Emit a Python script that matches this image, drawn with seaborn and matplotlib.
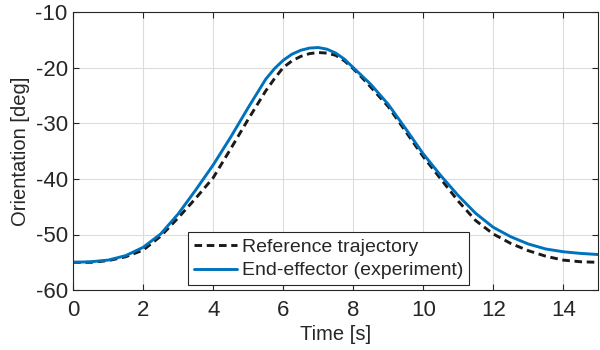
import numpy as np
import pandas as pd
import seaborn as sns
import matplotlib.pyplot as plt

# Values (0.5 s steps, 0.25 s around the peak)
time_s = [0.0, 0.5, 1.0, 1.5, 2.0, 2.5, 3.0, 3.5, 4.0, 4.5, 5.0, 5.5, 5.75, 6.0, 6.25,
          6.5, 6.75, 7.0, 7.25, 7.5, 7.75, 8.0, 8.25, 8.5, 9.0, 9.5, 10.0, 10.5, 11.0,
          11.5, 12.0, 12.5, 13.0, 13.5, 14.0, 14.5, 15.0]
reference = [-55.0, -55.0, -54.7, -54.0, -52.8, -50.3, -47.0, -43.5, -39.8, -34.6, -29.3,
             -24.2, -22.0, -20.0, -18.8, -18.0, -17.5, -17.3, -17.4, -17.8, -18.8, -20.2,
             -21.8, -23.5, -27.0, -31.5, -36.0, -40.0, -44.0, -47.5, -49.9, -51.6, -52.9,
             -53.9, -54.6, -54.9, -55.0]
end_effector = [-55.0, -54.9, -54.6, -53.8, -52.3, -49.9, -46.3, -42.0, -37.5, -32.5, -27.2,
                -22.1, -20.2, -18.7, -17.6, -16.9, -16.5, -16.4, -16.7, -17.4, -18.5, -20.0,
                -21.5, -23.0, -26.6, -31.0, -35.5, -39.4, -43.0, -46.2, -48.7, -50.4, -51.7,
                -52.6, -53.1, -53.4, -53.6]

df = pd.DataFrame({"t": time_s, "ref": reference, "ee": end_effector})

sns.set_theme(style="whitegrid")
plt.rcParams["font.family"] = ["Liberation Sans", "DejaVu Sans"]
plt.rcParams["axes.unicode_minus"] = False

fig = plt.figure(figsize=(6, 3.5), dpi=100)
ax = fig.add_axes([0.122, 0.171, 0.875, 0.795])

dark = "#262626"
sns.lineplot(data=df, x="t", y="ref", ax=ax, color="#1a1a1a", lw=2.1,
             linestyle=(0, (2.6, 1.6)), label="Reference trajectory")
sns.lineplot(data=df, x="t", y="ee", ax=ax, color="#0072BD", lw=2.1,
             label="End-effector (experiment)")

ax.set_xlim(0, 15)
ax.set_ylim(-60, -10)
ax.set_xticks(np.arange(0, 15, 2))
ax.set_yticks(np.arange(-60, -9, 10))

ax.set_facecolor("white")
ax.grid(True, color="#dcdcdc", lw=0.8)
for s in ax.spines.values():
    s.set_visible(True)
    s.set_color(dark)
    s.set_linewidth(0.8)
ax.tick_params(direction="in", length=4, width=0.8, color=dark, labelcolor=dark,
               labelsize=16, top=True, right=True, bottom=True, left=True,
               labeltop=False, labelright=False)
ax.tick_params(axis="x", pad=7)
ax.tick_params(axis="y", pad=4)

ax.set_xlabel("Time [s]", fontsize=14.5, color=dark, labelpad=3)
ax.set_ylabel("Orientation [deg]", fontsize=14.5, color=dark, labelpad=4)

leg = ax.legend(loc="lower left", bbox_to_anchor=(0.219, 0.018), borderaxespad=0,
                fontsize=14, frameon=True, fancybox=False, framealpha=1,
                edgecolor=dark, handlelength=2.2, handletextpad=0.25,
                borderpad=0.3, labelspacing=0.3)
leg.get_frame().set_linewidth(0.8)
for txt in leg.get_texts():
    txt.set_color(dark)

fig.savefig("out.png", dpi=100)
